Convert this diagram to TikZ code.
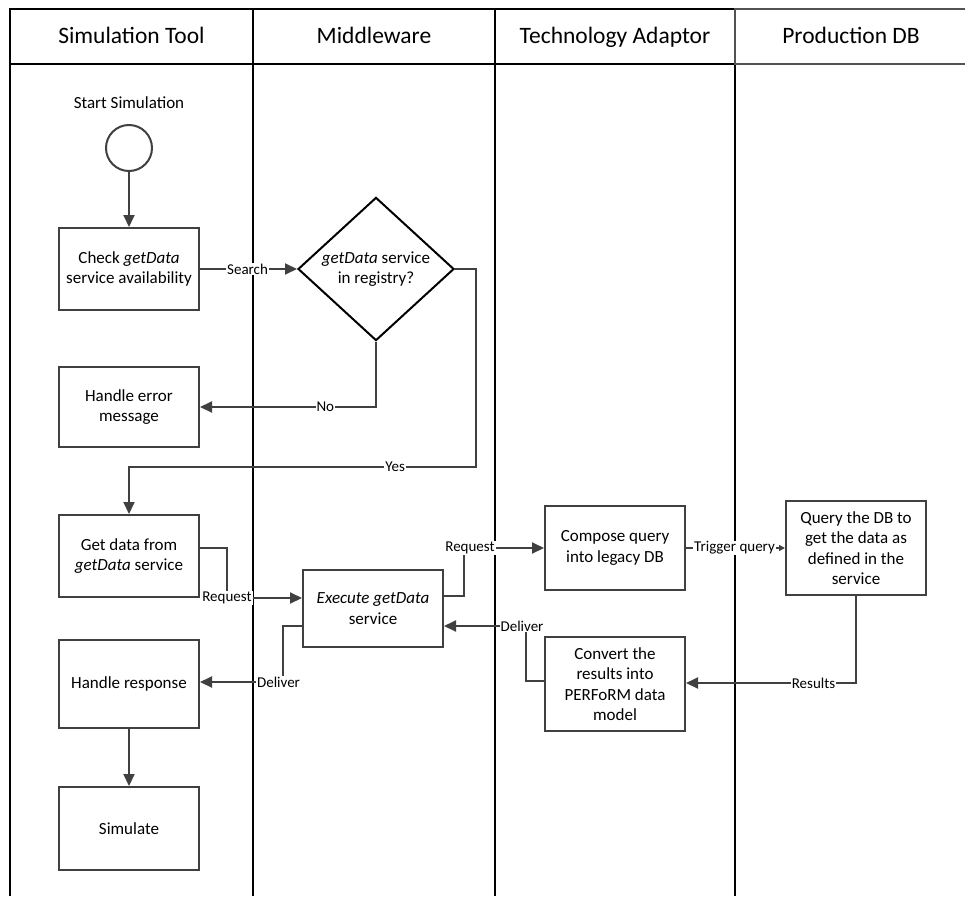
\documentclass[tikz,border=0pt]{standalone}
\usepackage{fontspec}
\setmainfont{Carlito}
\usetikzlibrary{arrows.meta,shapes.geometric}
\definecolor{edgegray}{HTML}{404040}
\definecolor{cellgray}{HTML}{525252}

\begin{document}
\begin{tikzpicture}[x=1pt,y=-1pt,
  laneline/.style={line width=2.4pt,black},
  cellline/.style={line width=2.4pt,cellgray},
  headtext/.style={anchor=base,font=\fontsize{23.5}{27}\selectfont},
  procbox/.style={draw=edgegray,line width=2pt,minimum width=140pt,inner sep=2pt,
    align=center,font=\fontsize{17}{20.5}\selectfont},
  decision/.style={diamond,draw=black,line width=2pt,minimum width=156pt,minimum height=128pt,
    inner sep=0pt,align=center,font=\fontsize{17}{20.5}\selectfont},
  startnode/.style={circle,draw=edgegray,line width=2pt,minimum size=46pt,inner sep=0pt},
  flow/.style={draw=edgegray,line width=2pt,-{Triangle[length=12pt,width=11pt]}},
  smallflow/.style={draw=edgegray,line width=2pt,-{Triangle[length=6pt,width=6pt]}},
  tag/.style={fill=white,inner sep=1pt,font=\fontsize{15}{18}\selectfont},
]
\useasboundingbox (0,0) rectangle (965,896);

% swimlane frame
\draw[laneline] (10,896) -- (10,9) -- (735,9);
\draw[laneline] (10,64) -- (735,64);
\draw[laneline] (253,9) -- (253,896);
\draw[laneline] (495,9) -- (495,896);
\draw[laneline] (735,64) -- (735,896);
\draw[cellline] (965,9) -- (735,9) -- (735,64) -- (965,64);

% lane headers, all on one baseline
\node[headtext] (h1) at (131.5,44) {Simulation Tool};
\node[headtext] (h2) at (374,44) {Middleware};
\node[headtext] (h3) at (615,44) {Technology Adaptor};
\node[headtext] (h4) at (851,44) {Production DB};

% simulation tool lane
\node[font=\fontsize{17}{20}\selectfont] (startlbl) at (129,103) {Start Simulation};
\node[startnode] (start) at (129,148) {};
\node[procbox,minimum height=82pt] (check) at (129,269) {Check \textit{getData}\\service availability};
\node[procbox,minimum height=80pt] (error) at (129,407) {Handle error\\message};
\node[procbox,minimum height=82pt] (getdata) at (129,556) {Get data from\\\textit{getData} service};
\node[procbox,minimum height=88pt] (response) at (129,684) {Handle response};
\node[procbox,minimum height=83pt] (simulate) at (129,828.5) {Simulate};

% middleware lane
\node[decision] (registry) at (376,269) {\textit{getData} service\\in registry?};
\node[procbox,minimum height=77pt] (exec) at (373,608.5) {\textit{Execute getData}\\service};

% technology adaptor lane
\node[procbox,minimum height=84pt] (compose) at (615,548) {Compose query\\into legacy DB};
\node[procbox,minimum height=94pt] (convert) at (615,684) {Convert the\\results into\\PERFoRM data\\model};

% production DB lane
\node[procbox,minimum height=94pt] (query) at (856,548) {Query the DB to\\get the data as\\defined in the\\service};

% connectors
\draw[flow] (start) -- (check);
\draw[flow] (check) -- node[tag,pos=0.49]{Search} (registry);
\draw[flow] (registry.south) |- node[tag,pos=0.644]{No} (error);
\draw[flow] (registry.east) -- (476,269) -- (476,467)
  -- node[tag,pos=0.233]{Yes} (129,467) -- (getdata.north);
\draw[flow] (getdata.east |- 0,548) -- (227,548) -- (227,598) -- (exec.west |- 0,598);
\node[tag] (req1) at (227,598) {Request};
\draw[flow] (exec.east |- 0,596) -- (464,596) -- (464,548) -- (compose.west);
\node[tag] (req2) at (470,548) {Request};
\draw[smallflow] (compose.east) -- node[tag,pos=0.49]{Trigger query} (query.west);
\draw[flow] (query.south) -- (856,683) -- node[tag,pos=0.25]{Results} (convert.east |- 0,683);
\draw[flow] (convert.west |- 0,681) -- (526,681) -- (526,626) -- (exec.east |- 0,626);
\node[tag] (del1) at (522,626) {Deliver};
\draw[flow] (exec.west |- 0,626) -- (283,626) -- (283,682) -- (response.east |- 0,682);
\node[tag] (del2) at (278.5,682) {Deliver};
\draw[flow] (response) -- (simulate);
\end{tikzpicture}
\end{document}
